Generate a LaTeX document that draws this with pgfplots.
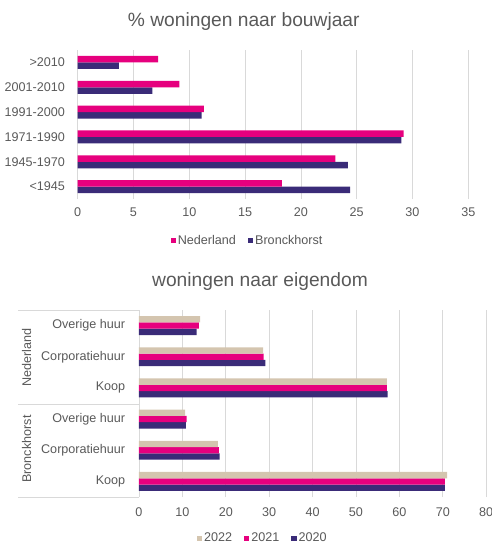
\documentclass[border=0pt]{standalone}
\usepackage{fontspec}
\setmainfont{Liberation Sans}
\usepackage{pgfplots}
\pgfplotsset{compat=1.18}

\definecolor{nlpink}{HTML}{E6007E}
\definecolor{brpurple}{HTML}{3A2B78}
\definecolor{beige}{HTML}{D4C5AF}
\definecolor{txtgray}{HTML}{595959}
\definecolor{gridgray}{HTML}{D9D9D9}

\newcommand{\lbl}{\fontsize{12.6}{14}\selectfont}
\newcommand{\ttl}{\fontsize{19.2}{22}\selectfont}

\pgfplotsset{
  excelbar/.style={
    xbar, scale only axis,
    /pgf/number format/assume math mode=true,
    axis line style={draw=none},
    tick style={draw=none},
    xmajorgrids, grid style={draw=gridgray, line width=0.8pt},
    ticklabel style={font=\lbl, text=txtgray},
    ymin=-0.5, ymax=5.5, ytick={0,...,5},
    legend style={draw=none, font=\lbl, text=txtgray, legend columns=-1,
      /tikz/every even column/.append style={column sep=10pt}},
    legend image code/.code={\fill[##1,draw=none] (0pt,-2.6pt) rectangle (5.2pt,2.6pt);},
    reverse legend,
  }
}

\begin{document}
\begin{tikzpicture}
\path[use as bounding box] (0,0) rectangle (491pt,-544pt);

\node[font=\ttl, text=txtgray] at (243.8pt,-21.7pt) {\% woningen naar bouwjaar};

\begin{axis}[excelbar,
  at={(77.7pt,-199pt)}, anchor=south west,
  width=390.6pt, height=149pt,
  xmin=0, xmax=35, xtick={0,5,...,35},
  yticklabels={<1945,1945-1970,1971-1990,1991-2000,2001-2010,>2010},
  xticklabel style={yshift=-5pt}, yticklabel style={xshift=-5pt},
  bar width=6.5pt,
  legend style={at={(0.4347,-0.28)}, anchor=center},
]
\addplot[fill=brpurple, draw=none, bar shift=-3.25pt] coordinates {
  (24.4,0) (24.2,1) (29.0,2) (11.1,3) (6.7,4) (3.7,5)};
\addplot[fill=nlpink, draw=none, bar shift=3.25pt] coordinates {
  (18.3,0) (23.1,1) (29.2,2) (11.3,3) (9.1,4) (7.2,5)};
\legend{Bronckhorst, Nederland}
\end{axis}

\node[font=\ttl, text=txtgray] at (260pt,-281.7pt) {woningen naar eigendom};

\begin{axis}[excelbar,
  at={(139pt,-497pt)}, anchor=south west,
  width=347.2pt, height=187pt,
  xmin=0, xmax=80, xtick={0,10,...,80},
  yticklabels={Koop,Corporatiehuur,Overige huur,Koop,Corporatiehuur,Overige huur},
  xticklabel style={yshift=-7pt}, yticklabel style={xshift=-6pt},
  bar width=6.3pt,
  legend style={at={(0.3568,-0.2209)}, anchor=center},
]
\addplot[fill=brpurple, draw=none, bar shift=-6.3pt] coordinates {
  (70.5,0) (18.6,1) (10.8,2) (57.3,3) (29.1,4) (13.3,5)};
\addplot[fill=nlpink, draw=none, bar shift=0pt] coordinates {
  (70.5,0) (18.4,1) (11.0,2) (57.1,3) (28.7,4) (13.8,5)};
\addplot[fill=beige, draw=none, bar shift=6.3pt] coordinates {
  (71.0,0) (18.2,1) (10.6,2) (57.1,3) (28.6,4) (14.1,5)};
\legend{2020, 2021, 2022}
\end{axis}

\draw[gridgray, line width=0.8pt] (18pt,-310pt) -- (139pt,-310pt)
  (18pt,-404pt) -- (139pt,-404pt) (18pt,-497pt) -- (139pt,-497pt);
\node[font=\lbl, text=txtgray, rotate=90] at (26.7pt,-357.5pt) {Nederland};
\node[font=\lbl, text=txtgray, rotate=90] at (26.7pt,-449pt) {Bronckhorst};
\end{tikzpicture}
\end{document}
